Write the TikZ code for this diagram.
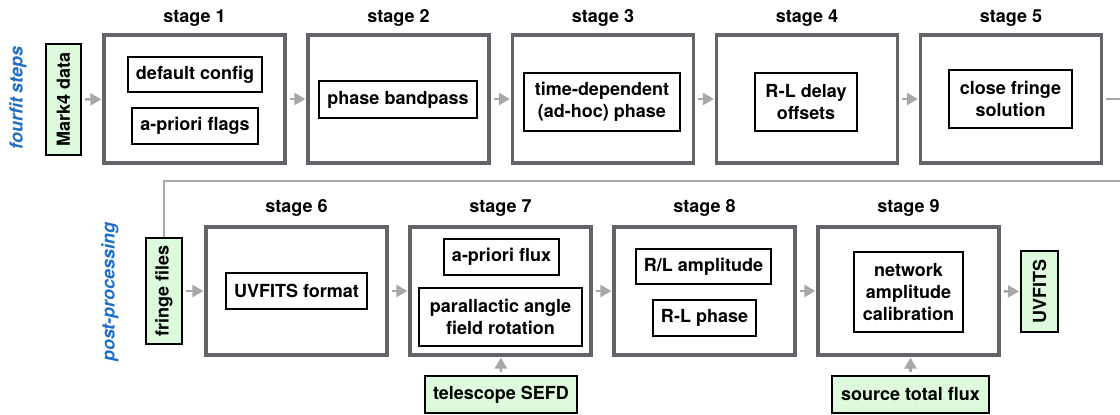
\documentclass[tikz,border=0pt]{standalone}
\usepackage{fontspec}
\setmainfont{TeX Gyre Heros}
\usetikzlibrary{arrows.meta,shadows}
\definecolor{stagegray}{RGB}{98,100,106}
\definecolor{arrowgray}{RGB}{168,168,168}
\definecolor{lightgreen}{RGB}{222,250,220}
\definecolor{labelblue}{RGB}{30,110,200}
\begin{document}
\begin{tikzpicture}[x=1pt,y=-1pt,
  every node/.style={font=\fontsize{18}{22}\selectfont\bfseries, align=center, inner sep=0pt},
  stagebox/.style={draw=stagegray, line width=3.2pt, fill=white, minimum width=181pt, minimum height=128pt,
    drop shadow={opacity=0.25, shadow xshift=1pt, shadow yshift=-1.5pt}},
  innerbox/.style={draw=black, line width=2pt, fill=white},
  greenbox/.style={draw=black, line width=2pt, fill=lightgreen},
  sidelabel/.style={text=labelblue, font=\fontsize{18}{22}\selectfont\bfseries\itshape, rotate=90},
  flow/.style={draw=arrowgray, line width=2.5pt, -{Triangle[length=11pt,width=12pt]}, shorten <=3pt, shorten >=1pt},
  feed/.style={draw=arrowgray, line width=2.5pt}
]
\useasboundingbox (0,0) rectangle (1120,415);

% side labels
\node[sidelabel] (lfourfit) at (18,98) {fourfit steps};
\node[sidelabel] (lpost) at (110,292) {post-processing};

% top row stages
\node[stagebox] (s1) at (194.5,99) {};
\node[stagebox] (s2) at (398.5,99) {};
\node[stagebox] (s3) at (603,99) {};
\node[stagebox] (s4) at (807,99) {};
\node[stagebox] (s5) at (1011,99) {};
\node (t1) at (194.5,18) {stage 1};
\node (t2) at (398.5,18) {stage 2};
\node (t3) at (603,18) {stage 3};
\node (t4) at (807,18) {stage 4};
\node (t5) at (1011,18) {stage 5};

% bottom row stages
\node[stagebox] (s6) at (296.5,291) {};
\node[stagebox] (s7) at (500.5,291) {};
\node[stagebox] (s8) at (704.5,291) {};
\node[stagebox] (s9) at (908.5,291) {};
\node (t6) at (296.5,208) {stage 6};
\node (t7) at (500.5,208) {stage 7};
\node (t8) at (704.5,208) {stage 8};
\node (t9) at (908.5,208) {stage 9};

% inner boxes
\node[innerbox, minimum width=134pt, minimum height=35pt] (b1a) at (195,74.5) {default config};
\node[innerbox, minimum width=126pt, minimum height=36pt] (b1b) at (195,126) {a-priori flags};
\node[innerbox, minimum width=158pt, minimum height=37pt] (b2) at (398,99.5) {phase bandpass};
\node[innerbox, minimum width=156pt, minimum height=58pt] (b3) at (602,102) {time-dependent\\(ad-hoc) phase};
\node[innerbox, minimum width=102pt, minimum height=58pt] (b4) at (806,102) {R-L delay\\offsets};
\node[innerbox, minimum width=123pt, minimum height=58pt] (b5) at (1010.5,99) {close fringe\\solution};
\node[innerbox, minimum width=141pt, minimum height=36pt] (b6) at (296.5,291) {UVFITS format};
\node[innerbox, minimum width=115pt, minimum height=36pt] (b7a) at (501.5,257) {a-priori flux};
\node[innerbox, minimum width=163pt, minimum height=58pt] (b7b) at (500.5,317) {parallactic angle\\field rotation};
\node[innerbox, minimum width=135pt, minimum height=35pt] (b8a) at (703.5,266.5) {R/L amplitude};
\node[innerbox, minimum width=103pt, minimum height=36pt] (b8b) at (704.5,318) {R-L phase};
\node[innerbox, minimum width=109pt, minimum height=80pt] (b9) at (908.5,292) {network\\amplitude\\calibration};

% green boxes
\node[greenbox, rotate=90, minimum width=111pt, minimum height=35pt] (mark4) at (63.5,99.5) {Mark4 data};
\node[greenbox, rotate=90, minimum width=106pt, minimum height=36pt] (fringe) at (164,291) {fringe files};
\node[greenbox, rotate=90, minimum width=81pt, minimum height=37pt] (uvfits) at (1039.5,291.5) {UVFITS};
\node[greenbox, minimum width=152pt, minimum height=37pt] (sefd) at (501,394.5) {telescope SEFD};
\node[greenbox, minimum width=157pt, minimum height=37pt] (flux) at (910.5,394.5) {source total flux};

% connectors
\draw[flow] (mark4) -- (s1);
\draw[flow] (s1) -- (s2);
\draw[flow] (s2) -- (s3);
\draw[flow] (s3) -- (s4);
\draw[flow] (s4) -- (s5);
\coordinate (c1) at (1135,99);
\coordinate (c2) at (1135,181);
\draw[feed, shorten <=3pt] (s5.east) -- (c1) -- (c2) -- (fringe.east |- c2) -- (fringe.east);
\draw[flow] (fringe) -- (s6);
\draw[flow] (s6) -- (s7);
\draw[flow] (s7) -- (s8);
\draw[flow] (s8) -- (s9);
\draw[flow] (s9) -- (uvfits);
\draw[flow] (sefd) -- (s7);
\draw[flow] (flux) -- (s9.south -| flux);
\end{tikzpicture}
\end{document}
